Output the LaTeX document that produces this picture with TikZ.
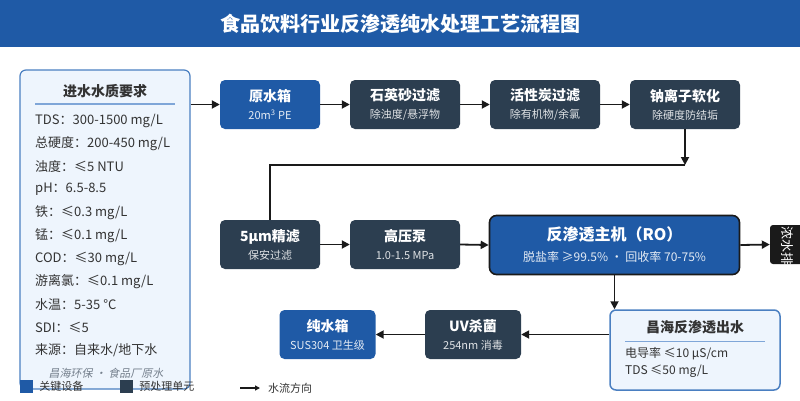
\documentclass[tikz,border=0pt]{standalone}
\usepackage{fontspec}
\setmainfont{Noto Sans CJK SC}
\newfontfamily\slantfont[FakeSlant=0.2]{Noto Sans CJK SC}
\usetikzlibrary{arrows.meta,positioning}
\usepackage{xcolor}
\definecolor{keyblue}{HTML}{1F5AA6}
\definecolor{predark}{HTML}{2C3E50}
\definecolor{panelfill}{HTML}{EEF5FD}
\definecolor{panelline}{HTML}{4A7FC1}
\definecolor{ruleblue}{HTML}{7FA6D8}
\definecolor{flow}{HTML}{1A1A1A}
\definecolor{txt}{HTML}{333333}
\newcommand{\fsz}[1]{\fontsize{#1}{#1}\selectfont}

\begin{document}
\begin{tikzpicture}[
    x=1pt, y=-1pt,
    key/.style={fill=keyblue, rounded corners=5pt, minimum width=100pt, minimum height=49pt, align=center, text=white, inner sep=0pt, font=\fontsize{14}{18}\selectfont\bfseries},
    pre/.style={key, fill=predark},
    sub/.style={font=\fsz{11}\mdseries, text=white!85!keyblue},
    panel/.style={draw=panelline, fill=panelfill, line width=1.2pt, rounded corners=6pt},
    item/.style={anchor=west, font=\fsz{13}, text=txt, inner sep=0pt},
    arrow/.style={-{Triangle[length=8pt,width=8pt]}, draw=flow, line width=1.8pt},
    line/.style={draw=flow, line width=1.8pt},
    legtext/.style={font=\fsz{11}, text=txt, inner sep=0pt},
]
\useasboundingbox (0,0) rectangle (800,400);
% title bar
\node[fill=keyblue, minimum width=800pt, minimum height=47pt, inner sep=0pt] (bar) at (400,23.5) {};
\node[font=\fsz{20}\bfseries, text=white] (title) at (bar) {食品饮料行业反渗透纯水处理工艺流程图};

% inlet water panel
\node[panel, minimum width=170pt, minimum height=319pt] (panel) at (105,229.5) {};
\node[font=\fsz{14}\bfseries, text=txt] (ptitle) at (105,91) {进水水质要求};
\draw[ruleblue, line width=1.5pt] (35,104) coordinate (r1) -- (175,104) coordinate (r2);
\node[item] (p1) at (35,121) {TDS：300-1500 mg/L};
\node[item] (p2) at (35,143.5) {总硬度：200-450 mg/L};
\node[item] (p3) at (35,166.5) {浊度：≤5 NTU};
\node[item] (p4) at (35,189.5) {pH：6.5-8.5};
\node[item] (p5) at (35,212.5) {铁：≤0.3 mg/L};
\node[item] (p6) at (35,235.5) {锰：≤0.1 mg/L};
\node[item] (p7) at (35,258.5) {COD：≤30 mg/L};
\node[item] (p8) at (35,281.5) {游离氯：≤0.1 mg/L};
\node[item] (p9) at (35,304.5) {水温：5-35 °C};
\node[item] (p10) at (35,327.5) {SDI：≤5};
\node[item] (p11) at (35,350.5) {来源：自来水/地下水};
\node[font=\fsz{11}\slantfont, text=gray!80!panelline] (pnote) at (106,373) {昌海环保 · 食品厂原水};

% top row
\node[key] (raw) at (270,104.5) {原水箱\\{\fsz{11}\mdseries\color{white!88!keyblue}20m\textsuperscript{3} PE}};
\node[pre, minimum width=110pt] (sand) at (405,104.5) {石英砂过滤\\{\fsz{11}\mdseries\color{white!85!predark}除浊度/悬浮物}};
\node[pre, minimum width=110pt] (carbon) at (545,104.5) {活性炭过滤\\{\fsz{11}\mdseries\color{white!85!predark}除有机物/余氯}};
\node[pre, minimum width=110pt] (soft) at (685,104.5) {钠离子软化\\{\fsz{11}\mdseries\color{white!85!predark}除硬度防结垢}};

% middle row
\node[pre] (fine) at (270,244.5) {5μm精滤\\{\fsz{11}\mdseries\color{white!85!predark}保安过滤}};
\node[pre, minimum width=110pt] (pump) at (405,244.5) {高压泵\\{\fsz{11}\mdseries\color{white!85!predark}1.0-1.5 MPa}};
\node[key, draw=flow, line width=1.6pt, rounded corners=7pt, minimum width=250pt, minimum height=59pt, font=\fontsize{16}{21}\selectfont\bfseries] (ro) at (614.5,245) {反渗透主机（RO）\\{\fsz{12}\mdseries\color{white!88!keyblue}脱盐率 ≥99.5\% · 回收率 70-75\%}};
\node[fill=flow, rounded corners=3pt, minimum width=36pt, minimum height=39pt, inner sep=0pt] (drain) at (788,244.5) {};
\begin{scope}
\clip (770,225) rectangle (800,264);
\node[rotate=-90, anchor=west, font=\fsz{13}, text=white, inner sep=0pt] (dtext) at (787,226) {浓水排放};
\end{scope}

% outlet water box
\node[panel, line width=1.5pt, minimum width=170pt, minimum height=80pt] (out) at (695,350) {};
\node[font=\fsz{14}\bfseries, text=txt] (otitle) at (695,327) {昌海反渗透出水};
\draw[ruleblue, line width=1.5pt] (625,341.5) coordinate (o1) -- (765,341.5) coordinate (o2);
\node[item, font=\fsz{12}] (o3) at (625,353.5) {电导率 ≤10 μS/cm};
\node[item, font=\fsz{12}] (o4) at (625,371.5) {TDS ≤50 mg/L};

% bottom row
\node[pre, minimum width=96pt] (uv) at (473,334.5) {UV杀菌\\{\fsz{11}\mdseries\color{white!85!predark}254nm 消毒}};
\node[key, minimum width=96pt] (pure) at (327.5,334.5) {纯水箱\\{\fsz{11}\mdseries\color{white!88!keyblue}SUS304 卫生级}};

% connectors
\draw[arrow] (panel.east |- raw.west) -- (raw.west);
\draw[arrow] (raw.east) -- (sand.west);
\draw[arrow] (sand.east) -- (carbon.west);
\draw[arrow] (carbon.east) -- (soft.west);
\coordinate (turn) at (685,165);
\draw[arrow] (soft.south) -- (turn);
\draw[line] (turn) -| (fine.north);
\draw[arrow] (fine.east) -- (pump.west);
\draw[arrow] (pump.east) -- (ro.west);
\draw[arrow] (ro.east) -- (drain.west);
\draw[arrow] (ro.south) -- (ro.south |- out.north);
\draw[arrow] (out.west |- uv.east) -- (uv.east);
\draw[arrow] (uv.west) -- (pure.east);

% legend
\node[fill=keyblue, minimum size=13pt, inner sep=0pt] (lk) at (26.5,386.5) {};
\node[legtext, anchor=west, right=6pt of lk] (lkt) {关键设备};
\node[fill=predark, minimum size=13pt, inner sep=0pt] (lp) at (126.5,386.5) {};
\node[legtext, anchor=west, right=6pt of lp] (lpt) {预处理单元};
\coordinate (la1) at (240,388);
\coordinate (la2) at (260,388);
\draw[-{Triangle[length=5pt,width=5pt]}, draw=flow, line width=1.5pt] (la1) -- (la2);
\node[legtext, anchor=west, right=8pt of la2] (lat) {水流方向};
\end{tikzpicture}
\end{document}
